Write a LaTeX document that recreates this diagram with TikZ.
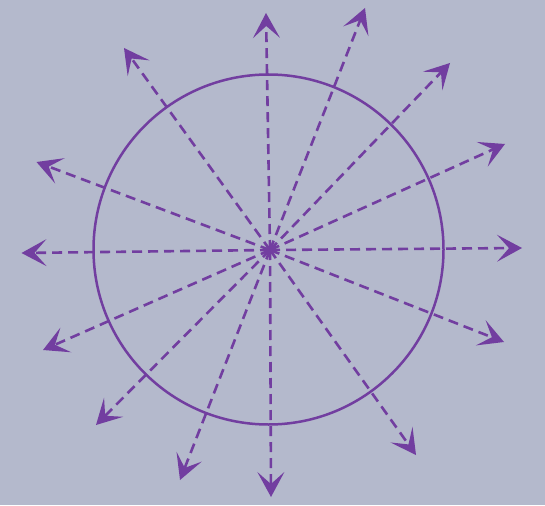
\documentclass[tikz,border=0pt]{standalone}
\usetikzlibrary{arrows.meta}
\definecolor{bg}{RGB}{180,185,204}
\definecolor{vio}{RGB}{114,62,160}
\tikzset{
  ray/.style={vio, line width=2.6pt, dash pattern=on 10pt off 6pt,
    -{Stealth[length=25pt,width=27pt,inset=12pt,line width=1.5pt]}},
  rim/.style={draw=vio, line width=2.5pt, circle, minimum size=350pt, inner sep=0pt}
}
\begin{document}
\begin{tikzpicture}[x=1pt,y=-1pt]
\fill[bg] (0,0) rectangle (545,505);
\useasboundingbox (0,0) rectangle (545,505);
\node[rim] (circ) at (268.5,249.5) {};
\coordinate (c) at (270,250);
\coordinate (t1) at (266,13);
\coordinate (t2) at (365,8);
\coordinate (t3) at (450,63);
\coordinate (t4) at (505,144);
\coordinate (t5) at (522,248);
\coordinate (t6) at (504,342);
\coordinate (t7) at (416,455);
\coordinate (t8) at (271,497);
\coordinate (t9) at (180,480);
\coordinate (t10) at (96,425);
\coordinate (t11) at (43,350);
\coordinate (t12) at (21.5,253);
\coordinate (t13) at (36.5,162);
\coordinate (t14) at (124,48);
\foreach \i in {1,...,14} { \draw[ray] (c) -- (t\i); }
\fill[vio] (c) circle (4pt);
\end{tikzpicture}
\end{document}
